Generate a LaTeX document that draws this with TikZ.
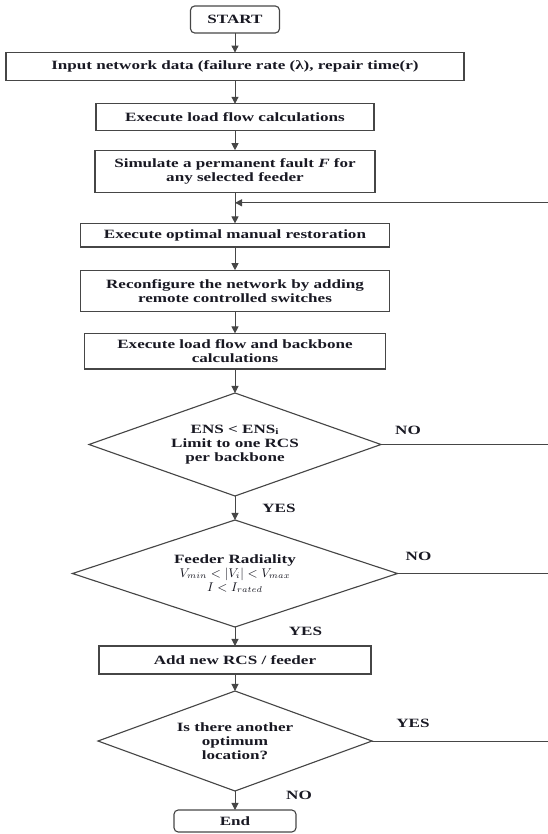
\documentclass[tikz,border=0pt]{standalone}
\usepackage{amsmath}
\usepackage{fontspec}
\setmainfont{Liberation Serif}[FakeStretch=1.35]
\usepackage{tikz}
\usetikzlibrary{arrows.meta, positioning, shapes.geometric, calc}
\definecolor{flowgray}{RGB}{70,70,70}
\definecolor{inkdark}{RGB}{25,25,35}

\begin{document}
\begin{tikzpicture}[
    node distance=0.5cm,
    base/.style={draw=flowgray, line width=0.8pt, align=center, text=inkdark,
                 font=\bfseries\fontsize{9}{10}\selectfont, inner ysep=2pt, outer sep=0pt},
    term/.style={base, rectangle, rounded corners=3pt, minimum width=2.225cm, minimum height=0.675cm},
    proc/.style={base, rectangle, minimum height=0.7cm},
    dec/.style={base, diamond, aspect=2.8, inner sep=0pt},
    lbl/.style={text=inkdark, font=\bfseries\fontsize{9}{10}\selectfont, inner sep=0pt},
    line/.style={draw=flowgray, line width=0.7pt},
    arr/.style={line, -{Triangle[length=5pt,width=5pt]}},
]
    \useasboundingbox (-5.875,0.4875) rectangle (7.8,-20.3625);

    \node[term] (start) {START};
    \node[proc, below=0.49cm of start, minimum width=11.45cm] (input) {Input network data (failure rate (λ), repair time(r)};
    \node[proc, below=0.58cm of input, minimum width=6.95cm, minimum height=0.67cm] (loadflow) {Execute load flow calculations};
    \node[proc, below=0.49cm of loadflow, minimum width=7cm, minimum height=1.05cm] (fault) {Simulate a permanent fault \textit{F} for\\any selected feeder};
    \node[proc, below=0.78cm of fault, minimum width=7.725cm, minimum height=0.59cm] (manual) {Execute optimal manual restoration};
    \node[proc, below=0.58cm of manual, minimum width=7.725cm, minimum height=1.04cm] (reconf) {Reconfigure the network by adding\\remote controlled switches};
    \node[proc, below=0.54cm of reconf, minimum width=7.525cm, minimum height=0.89cm] (backbone) {Execute load flow and backbone\\calculations};
    \node[dec, below=0.6cm of backbone, minimum width=7.3cm, minimum height=2.575cm] (ens) {ENS < ENS\textsubscript{i}\\Limit to one RCS\\per backbone};
    \node[dec, below=0.6cm of ens, minimum width=8.125cm, minimum height=2.675cm] (radial) {Feeder Radiality\\$V_{min} < |V_i| < V_{max}$\\$I < I_{rated}$};
    \node[proc, below=0.475cm of radial, minimum width=6.8cm] (addrcs) {Add new RCS / feeder};
    \node[dec, below=0.425cm of addrcs, minimum width=6.85cm, minimum height=2.5cm] (another) {Is there another\\optimum\\location?};
    \node[term, below=0.475cm of another, minimum width=3.05cm, minimum height=0.55cm] (stop) {End};

    % loop back point and right return line (off the page)
    \coordinate[below=0.265cm of fault] (back);
    \coordinate (edge) at (8.2,0);

    \draw[arr] (start) -- (input);
    \draw[arr] (input) -- (loadflow);
    \draw[arr] (loadflow) -- (fault);
    \draw[arr] (fault) -- (manual);
    \draw[arr] (manual) -- (reconf);
    \draw[arr] (reconf) -- (backbone);
    \draw[arr] (backbone) -- (ens);
    \draw[arr] (ens) -- (radial);
    \draw[arr] (radial) -- (addrcs);
    \draw[arr] (addrcs) -- (another);
    \draw[arr] (another) -- (stop);

    \draw[line] (ens.east) -- (ens.east -| edge);
    \draw[line] (radial.east) -- (radial.east -| edge);
    \draw[arr] (another.east) -- (another.east -| edge) |- (back);

    \node[lbl] (no1) at ($(ens.east)+(0.675,0.35)$) {NO};
    \node[lbl] (yes1) at ($(ens.south)+(1.1,-0.3)$) {YES};
    \node[lbl] (no2) at ($(radial.east)+(0.525,0.425)$) {NO};
    \node[lbl] (yes2) at ($(radial.south)+(1.76,-0.12)$) {YES};
    \node[lbl] (yes3) at ($(another.east)+(1.025,0.45)$) {YES};
    \node[lbl] (no3) at ($(another.south)+(1.6,-0.1)$) {NO};
\end{tikzpicture}
\end{document}
